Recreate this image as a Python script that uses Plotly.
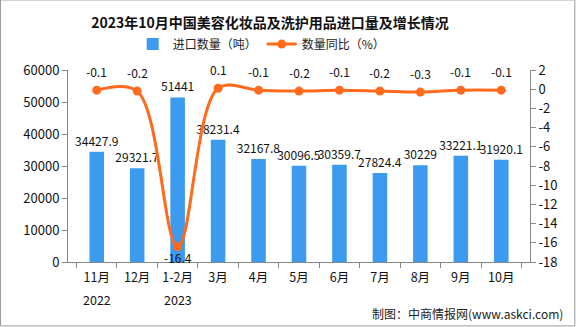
import plotly.graph_objects as go

# Monthly import volume of beauty/cosmetics and toiletries, with YoY change
months = ["11月", "12月", "1-2月", "3月", "4月", "5月", "6月", "7月", "8月", "9月", "10月"]
year_marks = {"11月": "2022", "1-2月": "2023"}
import_qty = [34427.9, 29321.7, 51441, 38231.4, 32167.8, 30096.5, 30359.7, 27824.4, 30229, 33221.1, 31920.1]
yoy_pct = [-0.1, -0.2, -16.4, 0.1, -0.1, -0.2, -0.1, -0.2, -0.3, -0.1, -0.1]
left_ticks = [0, 10000, 20000, 30000, 40000, 50000, 60000]
right_ticks = [2, 0, -2, -4, -6, -8, -10, -12, -14, -16, -18]

FONT = "Noto Sans CJK SC"
BAR_COLOR = "#3C9BEF"
LINE_COLOR = "#FF6A1C"
AXIS_COLOR = "#888888"

fig = go.Figure()

fig.add_trace(go.Bar(
    x=months, y=import_qty, name="进口数量（吨）",
    marker=dict(color=BAR_COLOR, line=dict(width=0)),
    width=0.36,
    text=[f"{v:g}" for v in import_qty],
    textposition="outside",
    constraintext="none",
    textfont=dict(family=FONT, size=12, color="#111111"),
    cliponaxis=False,
))

fig.add_trace(go.Scatter(
    x=months, y=yoy_pct, name="数量同比（%）", yaxis="y2",
    mode="lines+markers",
    line=dict(color=LINE_COLOR, width=3, shape="spline", smoothing=1.0),
    marker=dict(color=LINE_COLOR, size=9),
    cliponaxis=False,
))

# Value labels for the YoY line
for m, v in zip(months, yoy_pct):
    below = v < -5
    fig.add_annotation(
        x=m, y=v, xref="x", yref="y2", text=f"{v:.1f}",
        showarrow=False, yshift=-11 if below else 19,
        font=dict(family=FONT, size=12, color="#111111"),
    )

# Year markers under the month labels
for m, yr in year_marks.items():
    fig.add_annotation(
        x=m, xref="x", y=-0.195, yref="paper", yanchor="middle", text=yr,
        showarrow=False, font=dict(family=FONT, size=12.5, color="#111111"),
    )

# Outer frame and credit line
fig.add_shape(type="rect", xref="paper", yref="paper",
              x0=-0.146, x1=1.097, y0=-0.333, y1=1.365,
              line=dict(color="#9a9a9a", width=1), layer="below")
fig.add_annotation(
    xref="paper", yref="paper", x=1.075, y=-0.27, xanchor="right", yanchor="middle",
    text="制图：中商情报网(www.askci.com)", showarrow=False,
    font=dict(family=FONT, size=12, color="#222222"),
)

fig.update_layout(
    width=576, height=327,
    margin=dict(l=68, r=46, t=70, b=65),
    paper_bgcolor="white", plot_bgcolor="white",
    font=dict(family=FONT, size=12, color="#222222"),
    title=dict(
        text="<b>2023年10月中国美容化妆品及洗护用品进口量及增长情况</b>",
        x=270 / 576, xanchor="center", y=1 - 23 / 327, yanchor="middle",
        font=dict(family=FONT, size=14, color="#111111"),
    ),
    showlegend=True,
    legend=dict(
        orientation="h", x=0.14, xanchor="left", y=1.135, yanchor="middle",
        font=dict(family=FONT, size=12, color="#222222"),
        bgcolor="rgba(0,0,0,0)", itemwidth=30,
    ),
    xaxis=dict(
        type="category", tickvals=months, ticktext=months,
        showline=True, linecolor=AXIS_COLOR, linewidth=1,
        ticks="outside", ticklen=5, tickcolor=AXIS_COLOR, tickson="boundaries",
        ticklabelstandoff=4, tickangle=0, automargin=False,
        showgrid=False, tickfont=dict(family=FONT, size=12.5, color="#111111"),
    ),
    yaxis=dict(
        range=[0, 60000], tickvals=left_ticks, ticktext=[str(t) for t in left_ticks],
        showline=True, linecolor=AXIS_COLOR, linewidth=1,
        ticks="outside", ticklen=5, tickcolor=AXIS_COLOR,
        showgrid=False, zeroline=False, automargin=False,
        tickfont=dict(family=FONT, size=13, color="#111111"),
    ),
    yaxis2=dict(
        overlaying="y", side="right", range=[-18, 2],
        tickvals=right_ticks, ticktext=[str(t) for t in right_ticks],
        showline=True, linecolor=AXIS_COLOR, linewidth=1,
        ticks="outside", ticklen=5, tickcolor=AXIS_COLOR,
        showgrid=False, zeroline=False, automargin=False,
        tickfont=dict(family=FONT, size=13, color="#111111"),
    ),
)

fig.write_html("out.html")
